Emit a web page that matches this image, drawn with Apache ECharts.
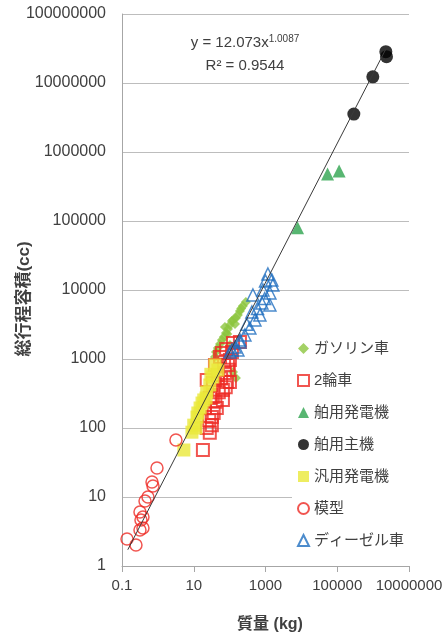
<!DOCTYPE html>
<html>
<head>
<meta charset="utf-8">
<script src="https://cdn.jsdelivr.net/npm/echarts@6/dist/echarts.min.js"></script>
<style>
  html, body { margin: 0; padding: 0; background: #fff; }
  #chart { width: 446px; height: 636px; }
</style>
</head>
<body>
<div id="chart"></div>
<script>
// Engine mass (kg) vs. total displacement (cc), one array of [mass, volume] pairs per engine type
const seriesNames = ['ガソリン車', '2輪車', '舶用発電機', '舶用主機', '汎用発電機', '模型', 'ディーゼル車'];

const gasolineCar = [
  [284, 6700], [234, 5860], [194, 4960], [170, 4350], [150, 3930], [116, 3550],
  [102, 3110], [90, 2720], [79, 2380], [69, 2080], [61, 1890], [54, 1650],
  [47, 1440], [41.5, 1260], [39, 1070], [74, 2910], [141, 3220], [124, 650],
  [150, 530], [102, 1600], [210, 5400], [125, 3700], [86, 2300]
];
const motorcycle = [
  [194, 1760], [124, 1706], [61, 1222], [116, 1260], [102, 967], [90, 819],
  [74, 627], [54, 1070], [102, 464], [34, 449], [65, 356], [28, 272],
  [65, 255], [44, 195], [32, 144], [32, 110], [23, 100], [28, 85],
  [18, 48], [23, 496], [84, 464], [34, 281], [20.5, 195], [39, 819], [47, 587],
  [80, 1400], [70, 900], [95, 700], [58, 520], [78, 390], [50, 330],
  [40, 240], [36, 165], [27, 130]
];
const marineGenerator = [[53700, 480000], [113000, 530000], [7830, 80000]];
const marineMain = [[290000, 3550000], [980000, 12300000], [2260000, 28400000], [2360000, 24100000]];
const generalGenerator = [
  [47, 693], [34, 548], [28, 420], [23, 332], [19, 255], [15, 195],
  [12.3, 144], [10, 110], [8.9, 87], [5.3, 48], [11.5, 100], [39, 819], [22, 272],
  [30, 600], [17, 230], [13, 165]
];
const modelEngine = [
  [3.19, 67], [0.944, 26.3], [0.686, 16.5], [0.731, 14.4], [0.53, 10],
  [0.438, 8.75], [0.317, 6.06], [0.384, 5.13], [0.338, 4.64], [0.317, 3.32],
  [0.384, 3.55], [0.138, 2.46], [0.245, 2.01]
];
const dieselCar = [
  [1167, 17060], [1607, 11800], [847, 10000], [1327, 9050], [446, 8470],
  [794, 6480], [1327, 6060], [418, 4800], [698, 4350], [507, 3680],
  [367, 2810], [267, 2230], [194, 1760], [141, 1490], [116, 1350],
  [170, 1350], [102, 1260], [194, 1890], [1000, 13500], [1500, 14000],
  [600, 5400], [950, 7500], [300, 3200]
];

// Power-law fit y = a * x^b and the mass range it is drawn over
const fitCoef = 12.073;
const fitExp = 1.0087;
const fitR2 = 0.9544;
const fitMassRange = [0.145, 2250000];

// Axis extents; the mass axis is labelled every second decade
const axisMin = { x: 0.1, y: 1 };
const axisMax = { x: 10000000, y: 100000000 };
const xDecadeStep = 2;

const fitLine = fitMassRange.map(m => [m, fitCoef * Math.pow(m, fitExp)]);

const textFont = '"Liberation Sans", "Noto Sans CJK JP", sans-serif';
const grey = '#404040';

function tickText(v) {
  return String(Number(v.toPrecision(6)));
}

const seriesStyles = [
  { data: gasolineCar, symbol: 'diamond', size: 10, itemStyle: { color: '#8CC63F' } },
  { data: motorcycle, symbol: 'rect', size: 12, itemStyle: { color: 'rgba(0,0,0,0)', borderColor: '#EE2A24', borderWidth: 2 } },
  { data: marineGenerator, symbol: 'triangle', size: 13, itemStyle: { color: '#2EA44F' } },
  { data: marineMain, symbol: 'circle', size: 13, itemStyle: { color: '#000000' } },
  { data: generalGenerator, symbol: 'rect', size: 13, itemStyle: { color: '#EAE83A' } },
  { data: modelEngine, symbol: 'circle', size: 12, itemStyle: { color: 'rgba(0,0,0,0)', borderColor: '#EE2A24', borderWidth: 1.5 } },
  { data: dieselCar, symbol: 'triangle', size: 12, itemStyle: { color: 'rgba(0,0,0,0)', borderColor: '#1F6EBF', borderWidth: 1.5 } }
];

const scatterSeries = seriesStyles.map((s, i) => ({
  name: seriesNames[i],
  type: 'scatter',
  data: s.data,
  symbol: s.symbol,
  symbolSize: s.size,
  itemStyle: s.itemStyle,
  emphasis: { disabled: true }
}));

const chart = echarts.init(document.getElementById('chart'), null, { renderer: 'canvas' });

chart.setOption({
  animation: false,
  backgroundColor: '#ffffff',
  grid: { left: 122, right: 37, top: 14, bottom: 70, containLabel: false },
  xAxis: {
    type: 'log',
    logBase: 10,
    min: axisMin.x,
    max: axisMax.x,
    interval: xDecadeStep,
    axisLine: { show: true, lineStyle: { color: '#A6A6A6', width: 1 } },
    axisTick: { show: true, inside: false, length: 6, lineStyle: { color: '#A6A6A6' } },
    axisLabel: {
      interval: 0, hideOverlap: false,
      margin: 12, color: grey, fontSize: 15, fontFamily: textFont, formatter: tickText
    },
    splitLine: { show: false },
    minorTick: { show: false }
  },
  yAxis: {
    type: 'log',
    logBase: 10,
    min: axisMin.y,
    max: axisMax.y,
    axisLine: { show: true, lineStyle: { color: '#A6A6A6', width: 1 } },
    axisTick: { show: false },
    axisLabel: { interval: 0, margin: 16, color: grey, fontSize: 16, fontFamily: textFont, formatter: tickText },
    splitLine: { show: true, lineStyle: { color: '#BDBDBD', width: 1 } }
  },
  legend: {
    orient: 'vertical',
    left: 292,
    top: 336,
    padding: 5,
    itemGap: 17,
    itemWidth: 11,
    itemHeight: 11,
    backgroundColor: '#ffffff',
    data: seriesNames,
    textStyle: { color: grey, fontSize: 15, fontFamily: textFont },
    selectedMode: false
  },
  graphic: [
    {
      type: 'text',
      x: 245,
      y: 43,
      style: {
        text: 'y = 12.073x{sup|1.0087}',
        font: '15px ' + textFont,
        fill: grey,
        align: 'center',
        verticalAlign: 'middle',
        rich: {
          sup: { fontSize: 10, fontFamily: textFont, fill: grey, verticalAlign: 'top', padding: [0, 0, 8, 0] }
        }
      }
    },
    {
      type: 'text',
      x: 245,
      y: 66,
      style: {
        text: 'R² = ' + fitR2.toFixed(4),
        font: '15px ' + textFont,
        fill: grey,
        align: 'center',
        verticalAlign: 'middle'
      }
    },
    {
      type: 'text',
      x: 24,
      y: 299,
      rotation: Math.PI / 2,
      style: {
        text: '総行程容積(cc)',
        font: 'bold 17px ' + textFont,
        fill: grey,
        align: 'center',
        verticalAlign: 'middle'
      }
    },
    {
      type: 'text',
      x: 270,
      y: 625,
      style: {
        text: '質量 (kg)',
        font: 'bold 16px ' + textFont,
        fill: grey,
        align: 'center',
        verticalAlign: 'middle'
      }
    }
  ],
  series: scatterSeries.concat([{
    name: 'fit',
    type: 'line',
    data: fitLine,
    symbol: 'none',
    lineStyle: { color: '#3A3A3A', width: 1 },
    emphasis: { disabled: true },
    z: 5
  }])
});
</script>
</body>
</html>
